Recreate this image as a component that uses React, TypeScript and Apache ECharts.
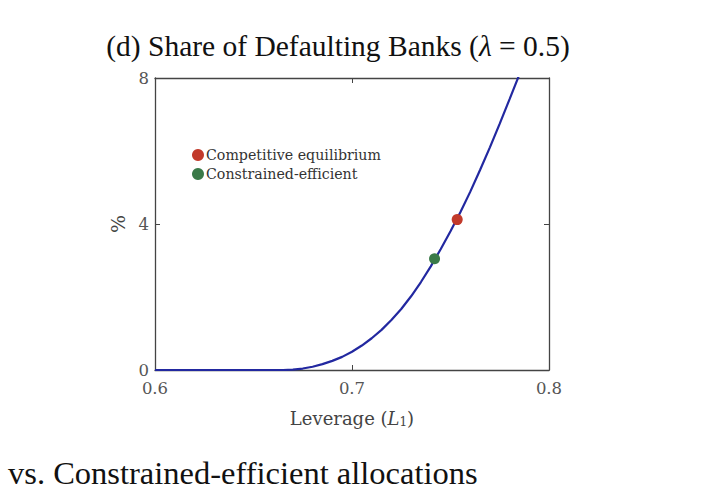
import React, { useEffect, useRef } from "react";
import * as echarts from "echarts";

// leverage (L1) and share of defaulting banks (%)
const leverage = [
  0.6, 0.63, 0.665, 0.67, 0.675, 0.68, 0.685, 0.69, 0.695, 0.7, 0.705, 0.71, 0.715, 0.72, 0.725,
  0.73, 0.735, 0.74, 0.745, 0.75, 0.755, 0.76, 0.765, 0.77, 0.775, 0.78, 0.785,
];
const defaultShare = [
  0, 0, 0, 0.01, 0.04, 0.09, 0.16, 0.25, 0.36, 0.5, 0.67, 0.87, 1.1, 1.37, 1.67,
  2.02, 2.41, 2.84, 3.31, 3.8, 4.32, 4.88, 5.48, 6.1, 6.75, 7.42, 8.1,
];

const competitivePoint = [0.7534, 4.12];
const constrainedPoint = [0.7419, 3.05];

const xTicks = [0.6, 0.7, 0.8];
const yTicks = [0, 4, 8];

const serif = "Liberation Serif";
const mathSerif = "DejaVu Serif";
const axisColor = "#444";

const App = () => {
  const chartRef = useRef<HTMLDivElement>(null);

  // eslint-disable-next-line consistent-return
  useEffect(() => {
    if (chartRef.current) {
      const chart = echarts.init(chartRef.current, undefined, { renderer: "svg" });

      const boxAxisX = {
        type: "value" as const,
        min: xTicks[0],
        max: xTicks[xTicks.length - 1],
        interval: 0.1,
        splitLine: { show: false },
        axisLine: { show: true, onZero: false, lineStyle: { color: axisColor, width: 1.3 } },
        axisTick: { show: true, inside: true, length: 5, lineStyle: { color: axisColor } },
      };
      const boxAxisY = {
        type: "value" as const,
        min: yTicks[0],
        max: yTicks[yTicks.length - 1],
        interval: 4,
        splitLine: { show: false },
        axisLine: { show: true, onZero: false, lineStyle: { color: axisColor, width: 1.3 } },
        axisTick: { show: true, inside: true, length: 5, lineStyle: { color: axisColor } },
      };

      const options: echarts.EChartsOption = {
        animation: false,
        textStyle: { fontFamily: serif },
        title: {
          text: "{n|(d) Share of Defaulting Banks (}{i|λ}{n| = 0.5)}",
          left: 333,
          top: 26,
          textAlign: "center",
          textStyle: {
            fontWeight: "normal",
            rich: {
              n: { fontFamily: serif, fontSize: 29.5, color: "#111", fontWeight: "normal" },
              i: { fontFamily: serif, fontSize: 29.5, color: "#111", fontStyle: "italic", fontWeight: "normal" },
            },
          },
        },
        grid: { left: 155, top: 78, width: 394, height: 292 },
        legend: {
          left: 187,
          top: 143,
          orient: "vertical",
          itemGap: 5,
          itemWidth: 12,
          itemHeight: 12,
          icon: "circle",
          textStyle: { fontFamily: mathSerif, fontSize: 14.2, color: "#333", padding: [0, 0, 0, -3] },
          data: ["Competitive equilibrium", "Constrained-efficient"],
        },
        xAxis: [
          {
            ...boxAxisX,
            position: "bottom",
            name: "{n|Leverage (}{i|L}{s|1}{n|)}",
            nameLocation: "middle",
            nameGap: 38,
            nameTextStyle: {
              rich: {
                n: { fontFamily: mathSerif, fontSize: 18, color: "#444" },
                i: { fontFamily: mathSerif, fontSize: 18, color: "#444", fontStyle: "italic" },
                s: { fontFamily: mathSerif, fontSize: 12, color: "#444", verticalAlign: "bottom", padding: [8, 0, 0, 0] },
              },
            },
            axisLabel: { fontFamily: mathSerif, fontSize: 16.5, color: "#555", margin: 10, formatter: (v: number) => v.toFixed(1) },
          },
          { ...boxAxisX, position: "top", axisLabel: { show: false } },
        ],
        yAxis: [
          {
            ...boxAxisY,
            position: "left",
            name: "%",
            nameLocation: "middle",
            nameGap: 22,
            nameRotate: 90,
            nameTextStyle: { fontFamily: mathSerif, fontSize: 19, color: "#444" },
            axisLabel: { fontFamily: mathSerif, fontSize: 16.5, color: "#555", margin: 6 },
          },
          { ...boxAxisY, position: "right", axisLabel: { show: false } },
        ],
        series: [
          {
            type: "line",
            data: leverage.map((x, i) => [x, defaultShare[i]]),
            showSymbol: false,
            lineStyle: { color: "#2228a0", width: 2.2 },
            silent: true,
          },
          {
            name: "Competitive equilibrium",
            type: "scatter",
            data: [competitivePoint],
            symbolSize: 11,
            itemStyle: { color: "#c23a2b", opacity: 1 },
            z: 5,
          },
          {
            name: "Constrained-efficient",
            type: "scatter",
            data: [constrainedPoint],
            symbolSize: 11,
            itemStyle: { color: "#3a7a48", opacity: 1 },
            z: 5,
          },
        ],
        graphic: [
          {
            type: "text",
            left: 8,
            top: 456,
            style: {
              text: "vs. Constrained-efficient allocations",
              fontFamily: serif,
              fontSize: 32.5,
              fill: "#111",
            },
          },
        ],
      };
      chart.setOption(options);
      return () => {
        chart.dispose();
      };
    }
  }, []);

  return (
    <div
      ref={chartRef}
      style={{ position: "fixed", left: 0, top: 0, width: "719px", height: "490px", background: "#fff" }}
    />
  );
};

export default App;
